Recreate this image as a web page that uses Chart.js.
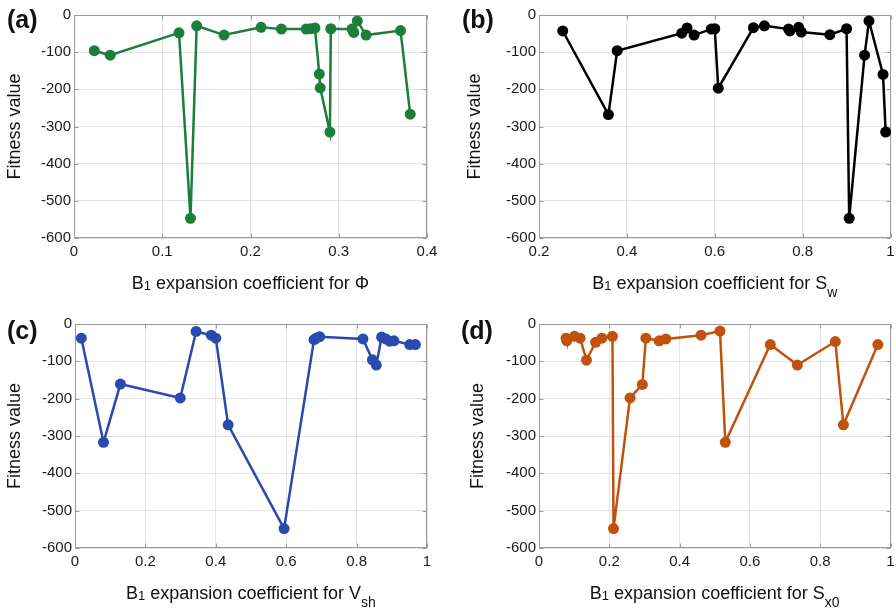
<!DOCTYPE html>
<html>
<head>
<meta charset="utf-8">
<script src="https://cdn.jsdelivr.net/npm/chart.js@4/dist/chart.umd.min.js"></script>
<style>
  html, body { margin: 0; padding: 0; background: #fff; }
  #wrap { position: relative; width: 896px; height: 609px; overflow: hidden; }
  canvas { position: absolute; }
</style>
</head>
<body>
<div id="wrap">
  <canvas id="panel-a" width="448" height="300" style="left:0;top:0"></canvas>
  <canvas id="panel-b" width="448" height="300" style="left:448px;top:0"></canvas>
  <canvas id="panel-c" width="448" height="309" style="left:0;top:300px"></canvas>
  <canvas id="panel-d" width="448" height="309" style="left:448px;top:300px"></canvas>
</div>
<script>
"use strict";

// (a) B1 coefficient for Phi
var phiCoef    = [0.023, 0.041, 0.119, 0.132, 0.139, 0.170, 0.212, 0.235, 0.263, 0.268, 0.273, 0.278, 0.279, 0.290, 0.291, 0.315, 0.317, 0.321, 0.331, 0.370, 0.381];
var phiFitness = [-96, -108, -48, -547, -29, -54, -33, -38, -38, -37, -35, -159, -196, -315, -37, -38, -47, -16, -54, -42, -267];

// (b) B1 coefficient for Sw
var swCoef    = [0.254, 0.358, 0.378, 0.525, 0.537, 0.553, 0.592, 0.600, 0.608, 0.688, 0.713, 0.768, 0.771, 0.791, 0.797, 0.862, 0.900, 0.906, 0.941, 0.951, 0.983, 0.989];
var swFitness = [-43, -268, -96, -49, -35, -54, -38, -37, -197, -34, -29, -38, -43, -33, -46, -53, -37, -547, -108, -16, -160, -315];

// (c) B1 coefficient for Vsh
var vshCoef    = [0.018, 0.081, 0.129, 0.299, 0.344, 0.387, 0.400, 0.435, 0.594, 0.679, 0.685, 0.695, 0.818, 0.845, 0.856, 0.871, 0.883, 0.894, 0.906, 0.951, 0.967];
var vshFitness = [-38, -317, -161, -198, -20, -30, -38, -270, -548, -42, -38, -34, -40, -96, -110, -35, -40, -46, -45, -55, -55];

// (d) B1 coefficient for Sx0
var sx0Coef    = [0.077, 0.079, 0.101, 0.117, 0.135, 0.161, 0.179, 0.209, 0.212, 0.259, 0.294, 0.304, 0.342, 0.361, 0.461, 0.515, 0.530, 0.658, 0.735, 0.843, 0.866, 0.964];
var sx0Fitness = [-38, -45, -33, -38, -97, -49, -38, -33, -548, -198, -162, -38, -45, -40, -30, -19, -317, -55, -110, -47, -270, -55];

var fitnessMin = -600, fitnessMax = 0, fitnessStep = 100;

var FONT = "'Liberation Sans', Arial, Helvetica, sans-serif";
var FRAME = "#9a9a9a";


// draws frame, inner ticks, panel letter and axis titles (with subscripts)
function decorPlugin(p) {
    return {
        id: "decor",
        beforeDatasetsDraw: function(chart) {
            var ctx = chart.ctx, a = chart.chartArea;
            var L = Math.round(a.left) + 0.5, R = Math.round(a.right) - 0.5;
            var T = Math.round(a.top) + 0.5, B = Math.round(a.bottom) - 0.5;
            ctx.save();
            ctx.strokeStyle = FRAME;
            ctx.lineWidth = 1;
            ctx.beginPath();
            chart.scales.x.ticks.forEach(function(t) {
                var px = Math.round(chart.scales.x.getPixelForValue(t.value)) + 0.5;
                ctx.moveTo(px, B); ctx.lineTo(px, B - 4);
                ctx.moveTo(px, T); ctx.lineTo(px, T + 4);
            });
            chart.scales.y.ticks.forEach(function(t) {
                var py = Math.round(chart.scales.y.getPixelForValue(t.value)) + 0.5;
                ctx.moveTo(L, py); ctx.lineTo(L + 4, py);
                ctx.moveTo(R, py); ctx.lineTo(R - 4, py);
            });
            ctx.stroke();
            ctx.strokeRect(L, T, R - L, B - T);
            ctx.restore();
        },
        afterDraw: function(chart) {
            var ctx = chart.ctx, a = chart.chartArea;
            ctx.save();
            ctx.fillStyle = "#111";

            // panel letter
            ctx.font = "bold 25px " + FONT;
            ctx.textBaseline = "middle";
            ctx.textAlign = "left";
            ctx.fillText(p.letter, p.letterX, p.letterY);

            // y title
            ctx.font = "18px " + FONT;
            ctx.save();
            ctx.translate(p.yTitleX, (a.top + a.bottom) / 2);
            ctx.rotate(-Math.PI / 2);
            ctx.textAlign = "center";
            ctx.fillText("Fitness value", 0, 0);
            ctx.restore();

            // x title, built from pieces so subscripts can drop
            ctx.textBaseline = "alphabetic";
            var total = 0;
            p.xTitle.forEach(function(part) {
                ctx.font = part.size + "px " + FONT;
                part.w = ctx.measureText(part.text).width;
                total += part.w;
            });
            var x = (a.left + a.right) / 2 - total / 2;
            var base = a.bottom + 51;
            p.xTitle.forEach(function(part) {
                ctx.font = part.size + "px " + FONT;
                ctx.fillText(part.text, x, base + part.dy);
                x += part.w;
            });
            ctx.restore();
        }
    };
}

function titleParts(symbol, sub) {
    var parts = [
        { text: "B", size: 18, dy: 0 },
        { text: "1", size: 13, dy: 1 },
        { text: " expansion coefficient for " + symbol, size: 18, dy: 0 }
    ];
    if (sub)
        parts.push({ text: sub, size: 14, dy: 8 });
    return parts;
}

function makePanel(canvasId, xs, ys, color, p) {
    var canvas = document.getElementById(canvasId);
    var W = canvas.width, H = canvas.height;
    var tickFont = { family: FONT, size: 15 };

    return new Chart(canvas, {
        type: "scatter",
        data: {
            datasets: [{
                data: xs.map(function(v, i) { return { x: v, y: ys[i] }; }),
                showLine: true,
                borderColor: color,
                backgroundColor: color,
                borderWidth: 2.5,
                pointRadius: 5.5,
                pointHoverRadius: 5.5,
                pointBorderWidth: 0,
                clip: false
            }]
        },
        options: {
            responsive: false,
            animation: false,
            events: [],
            layout: { padding: { left: 0, top: p.area.top, right: W - p.area.right, bottom: 0 } },
            plugins: {
                legend: { display: false },
                tooltip: { enabled: false }
            },
            scales: {
                x: {
                    type: "linear",
                    min: p.xMin,
                    max: p.xMax,
                    ticks: {
                        stepSize: p.xStep,
                        font: tickFont,
                        color: "#1a1a1a",
                        padding: 5,
                        maxRotation: 0,
                        autoSkip: false,
                        callback: function(v) { return String(+v.toFixed(2)); }
                    },
                    grid: { color: "#e4e4e4", drawTicks: false },
                    border: { display: false },
                    afterFit: function(s) {
                        s.height = H - p.area.bottom;
                        s.paddingLeft = 0;
                        s.paddingRight = 0;
                    }
                },
                y: {
                    min: fitnessMin,
                    max: fitnessMax,
                    ticks: {
                        stepSize: fitnessStep,
                        font: tickFont,
                        color: "#1a1a1a",
                        padding: 3
                    },
                    grid: { color: "#e4e4e4", drawTicks: false },
                    border: { display: false },
                    afterFit: function(s) {
                        s.width = p.area.left;
                        s.paddingTop = 0;
                        s.paddingBottom = 0;
                    }
                }
            }
        },
        plugins: [decorPlugin(p)]
    });
}


makePanel("panel-a", phiCoef, phiFitness, "#1b7f3b", {
    area: { left: 74, top: 15, right: 427, bottom: 238 },
    xMin: 0, xMax: 0.4, xStep: 0.1,
    letter: "(a)", letterX: 7, letterY: 21, yTitleX: 15,
    xTitle: titleParts("\u03A6", "")
});

makePanel("panel-b", swCoef, swFitness, "#000000", {
    area: { left: 91, top: 15, right: 443, bottom: 238 },
    xMin: 0.2, xMax: 1, xStep: 0.2,
    letter: "(b)", letterX: 14, letterY: 21, yTitleX: 27,
    xTitle: titleParts("S", "w")
});

makePanel("panel-c", vshCoef, vshFitness, "#2b4aae", {
    area: { left: 75, top: 24, right: 427, bottom: 248 },
    xMin: 0, xMax: 1, xStep: 0.2,
    letter: "(c)", letterX: 7, letterY: 32, yTitleX: 15,
    xTitle: titleParts("V", "sh")
});

makePanel("panel-d", sx0Coef, sx0Fitness, "#c0520e", {
    area: { left: 91, top: 24, right: 443, bottom: 248 },
    xMin: 0, xMax: 1, xStep: 0.2,
    letter: "(d)", letterX: 13, letterY: 32, yTitleX: 30,
    xTitle: titleParts("S", "x0")
});
</script>
</body>
</html>
